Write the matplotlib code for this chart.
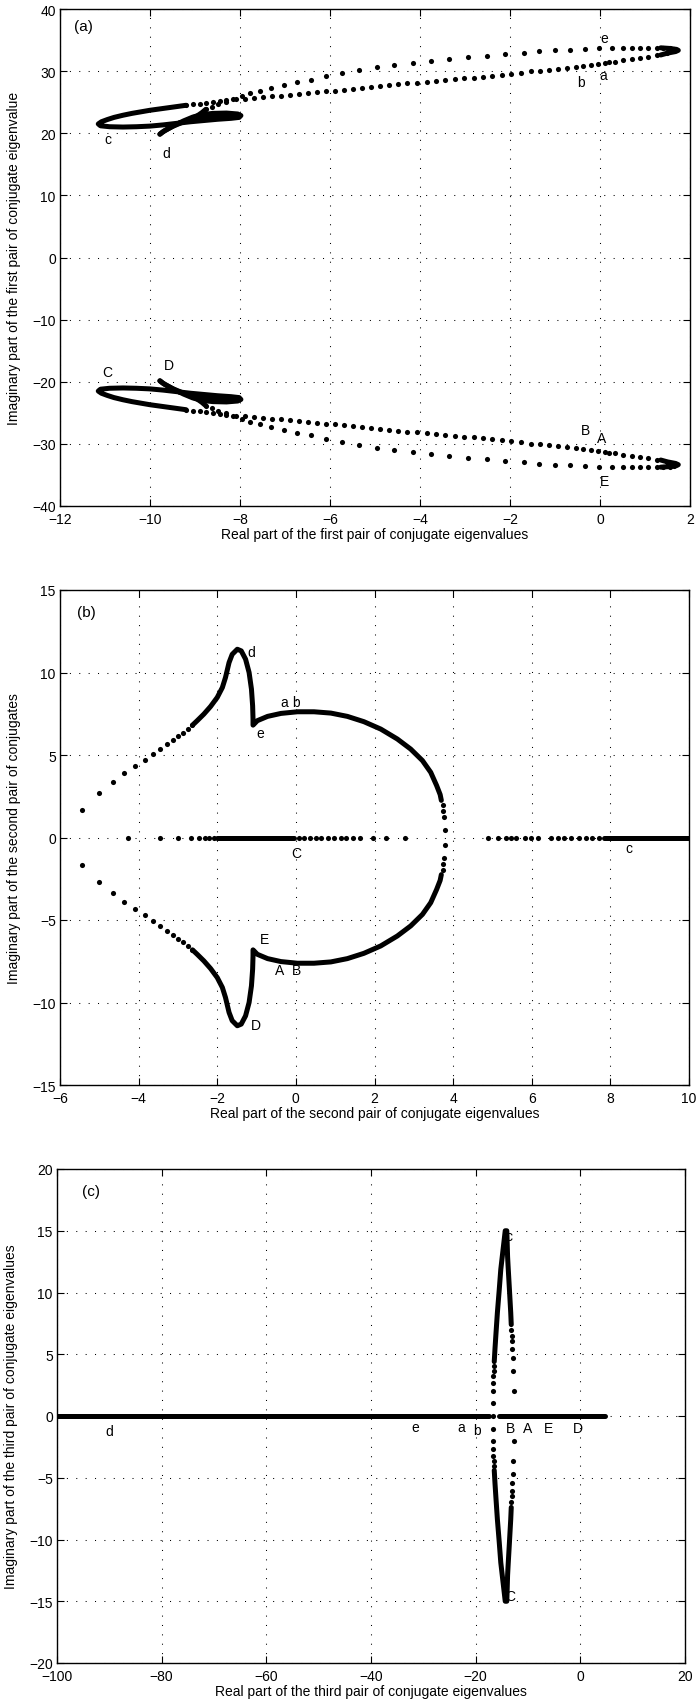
import matplotlib.pyplot as plt
import numpy as np

plt.rcParams['font.family'] = ['Liberation Sans', 'DejaVu Sans']
plt.rcParams['font.size'] = 10

# ---- first pair (upper half, lower half is the conjugate) ----
# sparse upper branch of the long loop
a_up_x = [1.64, 1.56, 1.41, 1.26, 1.07, 0.89, 0.70, 0.52, 0.26, -0.02, -0.33, -0.67,
          -1.00, -1.35, -1.70, -2.11, -2.52, -2.93, -3.35, -3.76, -4.16, -4.58, -4.96,
          -5.36, -5.73, -6.08, -6.42, -6.73, -7.03, -7.31, -7.55, -7.77, -7.96, -8.15,
          -8.32, -8.48, -8.63, -8.76]
a_up_y = [33.60, 33.72, 33.75, 33.75, 33.75, 33.75, 33.72, 33.70, 33.68, 33.65, 33.50,
          33.46, 33.35, 33.20, 32.95, 32.77, 32.50, 32.23, 31.97, 31.65, 31.33, 31.06,
          30.60, 30.15, 29.70, 29.20, 28.60, 28.25, 27.75, 27.30, 26.84, 26.40, 26.00,
          25.50, 25.05, 24.65, 24.25, 23.85]
# lower branch of the long loop
a_lo_x = [1.48, 1.26, 1.07, 0.89, 0.70, 0.52, 0.33, 0.20, 0.10, -0.04, -0.19, -0.37,
          -0.53, -0.74, -0.94, -1.13, -1.33, -1.54, -1.76, -1.97, -2.18, -2.39, -2.59,
          -2.80, -3.02, -3.22, -3.45, -3.65, -3.85, -4.07, -4.28, -4.48, -4.68, -4.89,
          -5.10, -5.30, -5.50, -5.70, -5.90, -6.10, -6.30, -6.50, -6.70, -6.90, -7.10,
          -7.30, -7.50, -7.70, -7.90, -8.10, -8.30, -8.45, -8.60, -8.75, -8.90, -9.05,
          -9.20]
a_lo_y = [32.90, 32.55, 32.30, 32.13, 31.97, 31.76, 31.54, 31.42, 31.33, 31.22, 31.06,
          30.85, 30.69, 30.53, 30.37, 30.20, 30.10, 29.95, 29.73, 29.52, 29.41, 29.26,
          29.10, 28.94, 28.83, 28.67, 28.56, 28.40, 28.30, 28.14, 28.03, 27.93, 27.70,
          27.60, 27.45, 27.30, 27.15, 26.98, 26.87, 26.74, 26.60, 26.47, 26.32, 26.20,
          26.05, 25.95, 25.80, 25.70, 25.55, 25.45, 25.30, 25.15, 25.05, 24.90, 24.75,
          24.65, 24.50]
# turning point at the right end
a_tip_x = [1.35, 1.55, 1.70, 1.74, 1.68, 1.50, 1.35]
a_tip_y = [33.75, 33.65, 33.50, 33.35, 33.15, 32.90, 32.60]
# closely packed part: left loop, small lobe and tail
a_knot_x = [-9.20, -9.40, -9.60, -9.80, -10.00, -10.20, -10.40, -10.60, -10.80, -10.95,
            -11.08, -11.15, -11.10, -10.90, -10.60, -10.30, -10.00, -9.70, -9.40, -9.10,
            -8.80, -8.50, -8.20, -8.02, -7.98, -8.05, -8.30, -8.60, -8.85, -9.05, -9.25,
            -9.45, -9.60, -9.72, -9.78]
a_knot_y = [24.50, 24.30, 24.10, 23.90, 23.70, 23.45, 23.20, 22.90, 22.55, 22.20, 21.85,
            21.50, 21.20, 21.05, 21.00, 21.05, 21.15, 21.35, 21.60, 21.85, 22.05, 22.25,
            22.40, 22.55, 22.85, 23.10, 23.25, 23.20, 23.00, 22.60, 22.00, 21.30, 20.70,
            20.20, 19.85]
a_lobe_x = [-9.00, -8.70, -8.40, -8.10]
a_lobe_y = [22.20, 22.50, 22.70, 22.80]
a_tail_x = [-9.78, -9.68, -9.50, -9.30, -9.10, -8.95, -8.85, -8.76]
a_tail_y = [19.85, 20.40, 21.10, 21.70, 22.30, 22.80, 23.30, 23.85]

a_labels = [('e', 0.09, 35.3), ('a', 0.07, 29.3), ('b', -0.43, 28.2), ('c', -10.93, 19.0),
            ('d', -9.63, 16.9), ('C', -10.94, -18.5), ('D', -9.57, -17.35),
            ('B', -0.33, -27.8), ('A', 0.04, -29.1), ('E', 0.09, -35.9)]

# ---- second pair ----
b_arm_x = [-5.43, -5.01, -4.66, -4.36, -4.10, -3.85, -3.64, -3.45, -3.28, -3.13, -3.00,
           -2.86, -2.75, -2.63]
b_arm_y = [1.67, 2.69, 3.36, 3.90, 4.33, 4.70, 5.05, 5.35, 5.64, 5.90, 6.13, 6.35, 6.57,
           6.81]
b_curve_x = [-2.63, -2.51, -2.34, -2.17, -2.00, -1.87, -1.79, -1.70, -1.62, -1.49, -1.39,
             -1.28, -1.19, -1.13, -1.10, -1.09, -1.09, -0.98, -0.72, -0.38, 0.04, 0.46,
             0.89, 1.31, 1.73, 2.16, 2.58, 2.92, 3.22, 3.43, 3.58, 3.67, 3.70]
b_curve_y = [6.81, 7.08, 7.48, 7.94, 8.49, 9.09, 9.70, 10.60, 11.10, 11.41, 11.31, 10.81,
             10.00, 8.99, 7.98, 7.18, 6.81, 7.08, 7.34, 7.52, 7.62, 7.62, 7.54, 7.34,
             7.02, 6.57, 5.97, 5.36, 4.66, 3.95, 3.15, 2.60, 2.25]
b_end_x = [3.73, 3.75, 3.77, 3.80]
b_end_y = [1.95, 1.62, 1.26, 0.48]
b_real_left = [-4.27, -3.46, -3.00, -2.68, -2.47, -2.32, -2.20, -2.08]
b_real_dense = [-2.00, -0.06]
b_real_mid = [0.08, 0.20, 0.36, 0.50, 0.65, 0.81, 0.97, 1.14, 1.28, 1.45, 1.64, 1.96,
              2.30, 2.77]
b_real_right = [4.89, 5.13, 5.34, 5.47, 5.59, 5.83, 5.97, 6.17, 6.48, 6.66, 6.83, 7.00,
                7.19, 7.39, 7.53, 7.70]
b_real_far = [7.85, 10.2]

b_labels = [('d', -1.13, 11.27), ('a', -0.29, 8.19), ('b', 0.01, 8.23), ('e', -0.90, 6.33),
            ('C', 0.0, -0.91), ('E', -0.79, -6.17), ('A', -0.41, -8.06), ('B', 0.01, -8.06),
            ('D', -1.03, -11.34), ('c', 8.47, -0.61)]

# ---- third pair ----
c_real_segments = [(-101.0, -17.5), (-15.5, 4.7)]
c_real_dots = [-16.7]
c_left_x = [-16.70, -16.70, -16.62, -16.60, -16.55, -16.50]
c_left_y = [1.05, 2.05, 2.70, 3.24, 3.64, 4.05]
c_lens_x = [-16.45, -16.30, -16.10, -15.85, -15.50, -15.20, -14.69, -14.35, -14.05,
            -13.90, -13.80, -13.55, -13.30, -13.20]
c_lens_y = [4.40, 5.50, 6.80, 8.37, 10.20, 11.87, 13.75, 15.00, 15.00, 12.90, 12.10,
            10.25, 8.37, 7.40]
c_right_x = [-13.20, -13.15, -13.10, -13.00, -12.92, -12.86, -12.67]
c_right_y = [7.00, 6.50, 6.07, 5.40, 4.67, 3.64, 2.00]

c_labels = [('d', -90.1, -1.19), ('e', -31.6, -0.9), ('a', -22.8, -0.9), ('b', -19.8, -1.1),
            ('B', -13.4, -1.0), ('A', -10.0, -1.0), ('E', -6.1, -1.0), ('D', -0.45, -1.0),
            ('c', -13.6, 14.6), ('C', -13.3, -14.6)]

DOT = dict(linestyle='none', marker='o', ms=3.7, mew=0, color='k', zorder=3)
THICK = dict(color='k', lw=3.6, solid_capstyle='round', solid_joinstyle='round', zorder=3)


def dots(ax, x, y, mirror=True):
    x, y = np.asarray(x), np.asarray(y)
    ax.plot(x, y, **DOT)
    if mirror:
        ax.plot(x, -y, **DOT)


def thick(ax, x, y, mirror=True):
    x, y = np.asarray(x), np.asarray(y)
    ax.plot(x, y, **THICK)
    if mirror:
        ax.plot(x, -y, **THICK)


def style(ax, xlim, ylim, xstep, ystep, xlabel, ylabel, tag, tagpos, labels):
    ax.set_xlim(*xlim)
    ax.set_ylim(*ylim)
    ax.set_xticks(np.arange(xlim[0], xlim[1] + xstep / 2, xstep))
    ax.set_yticks(np.arange(ylim[0], ylim[1] + ystep / 2, ystep))
    ax.grid(True, color='k', linestyle=(0, (1, 8)), linewidth=0.75)
    ax.set_axisbelow(True)
    ax.tick_params(direction='in', length=5, width=0.8, top=True, right=True,
                   labelsize=10, pad=3)
    ax.tick_params(axis='x', pad=4)
    for s in ax.spines.values():
        s.set_linewidth(1.0)
    ax.set_xlabel(xlabel, fontsize=10, labelpad=1)
    ax.set_ylabel(ylabel, fontsize=10)
    ax.yaxis.set_label_coords(-0.062, 0.5)
    ax.text(tagpos[0], tagpos[1], tag, fontsize=11, ha='center', va='center')
    for t, x, y in labels:
        ax.text(x, y, t, fontsize=10, ha='center', va='center', zorder=4)


fig = plt.figure(figsize=(6.96, 17.06), dpi=100)
W, H = 696.0, 1706.0

# (a)
ax1 = fig.add_axes([60 / W, 1 - 507 / H, 630 / W, 497 / H])
dots(ax1, a_up_x, a_up_y)
dots(ax1, a_lo_x, a_lo_y)
thick(ax1, a_tip_x, a_tip_y)
thick(ax1, a_knot_x, a_knot_y)
thick(ax1, a_lobe_x, a_lobe_y)
thick(ax1, a_tail_x, a_tail_y)
style(ax1, (-12, 2), (-40, 40), 2, 10,
      'Real part of the first pair of conjugate eigenvalues',
      'Imaginary part of the first pair of conjugate eigenvalue',
      '(a)', (-11.47, 37.2), a_labels)

# (b)
ax2 = fig.add_axes([60 / W, 1 - 1086 / H, 629 / W, 495 / H])
dots(ax2, b_arm_x, b_arm_y)
thick(ax2, b_curve_x, b_curve_y)
dots(ax2, b_end_x, b_end_y)
zl, zm, zr = np.zeros(len(b_real_left)), np.zeros(len(b_real_mid)), np.zeros(len(b_real_right))
dots(ax2, b_real_left, zl, mirror=False)
dots(ax2, b_real_mid, zm, mirror=False)
dots(ax2, b_real_right, zr, mirror=False)
thick(ax2, b_real_dense, [0, 0], mirror=False)
thick(ax2, b_real_far, [0, 0], mirror=False)
style(ax2, (-6, 10), (-15, 15), 2, 5,
      'Real part of the second pair of conjugate eigenvalues',
      'Imaginary part of the second pair of conjugates',
      '(b)', (-5.32, 13.66), b_labels)

# (c)
ax3 = fig.add_axes([57 / W, 1 - 1664 / H, 628 / W, 494 / H])
for x0, x1 in c_real_segments:
    thick(ax3, [x0, x1], [0, 0], mirror=False)
dots(ax3, c_real_dots, [0], mirror=False)
dots(ax3, c_left_x, c_left_y)
thick(ax3, c_lens_x, c_lens_y)
dots(ax3, c_right_x, c_right_y)
style(ax3, (-100, 20), (-20, 20), 20, 5,
      'Real part of the third pair of conjugate eigenvalues',
      'Imaginary part of the third pair of conjugate eigenvalues',
      '(c)', (-93.5, 18.2), c_labels)

fig.savefig('out.png', dpi=100)
